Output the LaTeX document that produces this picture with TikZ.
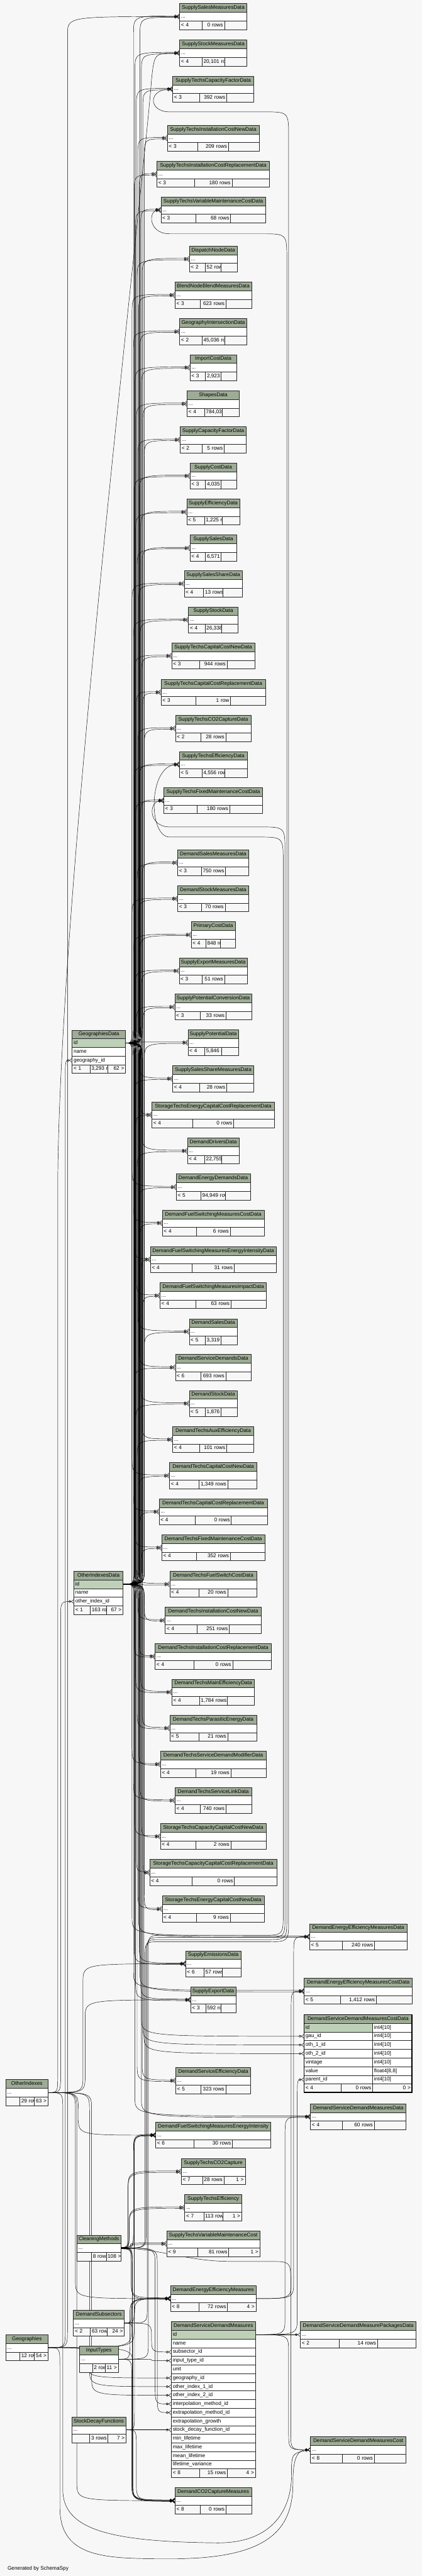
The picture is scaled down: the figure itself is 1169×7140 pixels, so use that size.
\documentclass[tikz,border=0pt]{standalone}
\usepackage{fontspec}
\setmainfont{Liberation Sans}
\usetikzlibrary{arrows.meta,calc}

\definecolor{bgc}{HTML}{F7F7F7}
\definecolor{hdrc}{HTML}{9EAC96}
\definecolor{pkc}{HTML}{BFD0B9}

\pgfdeclarelayer{back}
\pgfdeclarelayer{wires}
\pgfsetlayers{back,wires,main}

\newlength{\cwa}\newlength{\cwb}\newlength{\cwc}

\tikzset{
  cellbox/.style={draw=black!85, line width=1pt, outer sep=0pt, inner xsep=4pt, inner ysep=0pt,
    minimum height=24pt, anchor=north west, text height=11pt, text depth=3.5pt},
  hdrbox/.style={cellbox, fill=hdrc, align=center},
  rowbox/.style={cellbox, fill=white, align=left},
  pkbox/.style={cellbox, fill=pkc, align=left},
  footbox/.style={cellbox, fill=bgc},
  fk/.style={line width=0.8pt,
    -{Circle[open,length=7pt,width=7pt] Straight Barb[reversed,length=7pt,width=11pt]}}
}

\newcommand{\tablefoot}[6]{%
  \settowidth{\cwa}{#4}\settowidth{\cwb}{#5}\settowidth{\cwc}{#6}%
  \pgfmathsetmacro{\fex}{(#3-\cwa-\cwb-\cwc)/3}%
  \pgfmathsetmacro{\fwa}{max(\cwa+\fex-8,1)}%
  \pgfmathsetmacro{\fwb}{max(\cwb+\fex-8,1)}%
  \pgfmathsetmacro{\fwc}{max(#3-\fwa-\fwb-24,1)}%
  \node[footbox, text width=\fwa pt, align=left] (#1-fa) at (#2.south west) {\mbox{#4}};
  \node[footbox, text width=\fwb pt, align=right] (#1-fb) at (#1-fa.north east) {\mbox{#5}};
  \node[footbox, text width=\fwc pt, align=right] (#1-fc) at (#1-fb.north east) {\mbox{#6}};}

\newcommand{\tablec}[7]{%
  \pgfmathsetmacro{\hw}{#4-8}%
  \node[hdrbox, text width=\hw pt] (#1) at (#2,#3) {#1};
  \node[rowbox, text width=\hw pt] (#1-r) at (#1.south west) {...};
  \tablefoot{#1}{#1-r}{#4}{#5}{#6}{#7}}

\newcommand{\tablee}[6]{%
  \pgfmathsetmacro{\hw}{#4-8}%
  \node[hdrbox, text width=\hw pt] (#1) at (#2,#3) {#1};
  \node[pkbox, text width=\hw pt] (#1-1) at (#1.south west) {#5};
  \foreach \cl [count=\ri from 2] in {#6} {%
    \pgfmathtruncatemacro{\rj}{\ri-1}%
    \node[rowbox, text width=\hw pt] (#1-\ri) at (#1-\rj.south west) {\cl};}}

\newcommand{\fkbus}[3]{%
  \draw[fk] let \p1=(#2), \p2=(#3), \n1={ifthenelse(\y2>\y1,1,-1)},
      \n2={min(50,abs(\y2-\y1)/2)} in
    (\p1) .. controls (#1pt,\y1) .. (#1pt,\y1+\n1*\n2) -- (#1pt,\y2-\n1*\n2)
    .. controls (#1pt,\y2) .. (\p2);}

\newcommand{\fkloop}[6]{%
  \draw[fk] let \p1=(#5), \p2=(#6) in
    (\p1) .. controls (#1pt,\y1) .. (#1pt,\y1+40pt) -- (#1pt,-#4pt-45pt)
    .. controls (#1pt,-#4pt) .. (#1pt+45pt,-#4pt) -- (#2pt-60pt,-#4pt)
    .. controls (#2pt,-#4pt) .. (#2pt,-#4pt+60pt) -- (#2pt,-#3pt-70pt)
    .. controls (#2pt,-#3pt) .. (#2pt-70pt,-#3pt) -- (470pt,-#3pt)
    .. controls (410pt,-#3pt) and (410pt,\y2) .. (\p2);}

\begin{document}
\begin{tikzpicture}[x=1pt, y=-1pt, line join=round]
\fontsize{14.4}{17}\selectfont
\useasboundingbox (0,0) rectangle (1169,7140);
\begin{pgfonlayer}{back}
  \fill[bgc] (0,0) rectangle (1169,7140);
\end{pgfonlayer}

\foreach \nm/\cx/\yy/\ww/\lf/\rw/\rt in {
  SupplySalesMeasuresData/591/10/186/{< 4}/{0 rows}/{},
  SupplyStockMeasuresData/591/111/186/{< 4}/{20,101 rows}/{},
  SupplyTechsCapacityFactorData/591/211/225/{< 3}/{392 rows}/{},
  SupplyTechsInstallationCostNewData/591/347/254/{< 3}/{209 rows}/{},
  SupplyTechsInstallationCostReplacementData/591/447/312/{< 3}/{180 rows}/{},
  SupplyTechsVariableMaintenanceCostData/591/546/290/{< 3}/{68 rows}/{},
  DispatchNodeData/591/682/132/{< 2}/{52 rows}/{},
  BlendNodeBlendMeasuresData/591/782/212/{< 3}/{623 rows}/{},
  GeographyIntersectionData/591/883/186/{< 2}/{45,036 rows}/{},
  ImportCostData/591/983/129/{< 3}/{2,923 rows}/{},
  ShapesData/591/1083/145/{< 4}/{784,032 rows}/{},
  SupplyCapacityFactorData/591/1183/183/{< 2}/{5 rows}/{},
  SupplyCostData/591/1283/129/{< 3}/{4,035 rows}/{},
  SupplyEfficiencyData/591/1383/147/{< 5}/{1,225 rows}/{},
  SupplySalesData/591/1483/129/{< 4}/{6,571 rows}/{},
  SupplySalesShareData/591/1582/161/{< 4}/{13 rows}/{},
  SupplyStockData/591/1682/137/{< 4}/{26,338 rows}/{},
  SupplyTechsCapitalCostNewData/591/1782/230/{< 3}/{944 rows}/{},
  SupplyTechsCapitalCostReplacementData/591/1883/289/{< 3}/{1 row}/{},
  SupplyTechsCO2CaptureData/591/1983/209/{< 2}/{28 rows}/{},
  SupplyTechsEfficiencyData/591/2083/188/{< 5}/{4,556 rows}/{},
  SupplyTechsFixedMaintenanceCostData/591/2183/274/{< 3}/{180 rows}/{},
  DemandSalesMeasuresData/591/2355/197/{< 3}/{750 rows}/{},
  DemandStockMeasuresData/591/2455/197/{< 3}/{70 rows}/{},
  PrimaryCostData/591/2555/122/{< 4}/{848 rows}/{},
  SupplyExportMeasuresData/591/2655/189/{< 3}/{51 rows}/{},
  SupplyPotentialConversionData/591/2755/213/{< 3}/{33 rows}/{},
  SupplyPotentialData/591/2854/140/{< 4}/{5,846 rows}/{},
  SupplySalesShareMeasuresData/591/2954/225/{< 4}/{28 rows}/{},
  StorageTechsEnergyCapitalCostReplacementData/591/3054/340/{< 4}/{0 rows}/{},
  DemandDriversData/591/3154/143/{< 4}/{22,755 rows}/{},
  DemandEnergyDemandsData/591/3254/205/{< 5}/{94,949 rows}/{},
  DemandFuelSwitchingMeasuresCostData/591/3354/282/{< 4}/{6 rows}/{},
  DemandFuelSwitchingMeasuresEnergyIntensityData/591/3455/348/{< 4}/{31 rows}/{},
  DemandFuelSwitchingMeasuresImpactData/591/3555/295/{< 4}/{63 rows}/{},
  DemandSalesData/591/3655/133/{< 5}/{3,319 rows}/{},
  DemandServiceDemandsData/591/3754/210/{< 6}/{693 rows}/{},
  DemandStockData/591/3854/133/{< 5}/{1,876 rows}/{},
  DemandTechsAuxEfficiencyData/591/3954/225/{< 4}/{101 rows}/{},
  DemandTechsCapitalCostNewData/591/4054/242/{< 4}/{1,349 rows}/{},
  DemandTechsCapitalCostReplacementData/591/4154/300/{< 4}/{0 rows}/{},
  DemandTechsFixedMaintenanceCostData/591/4254/285/{< 4}/{352 rows}/{},
  DemandTechsFuelSwitchCostData/591/4355/241/{< 4}/{20 rows}/{},
  DemandTechsInstallationCostNewData/591/4455/266/{< 4}/{251 rows}/{},
  DemandTechsInstallationCostReplacementData/591/4555/322/{< 4}/{0 rows}/{},
  DemandTechsMainEfficiencyData/591/4654/229/{< 4}/{1,784 rows}/{},
  DemandTechsParasiticEnergyData/591/4754/241/{< 5}/{21 rows}/{},
  DemandTechsServiceDemandModifierData/591/4854/292/{< 4}/{19 rows}/{},
  DemandTechsServiceLinkData/591/4954/212/{< 4}/{740 rows}/{},
  StorageTechsCapacityCapitalCostNewData/591/5054/293/{< 4}/{2 rows}/{},
  StorageTechsCapacityCapitalCostReplacementData/591/5154/352/{< 4}/{0 rows}/{},
  StorageTechsEnergyCapitalCostNewData/591/5255/283/{< 4}/{9 rows}/{},
  SupplyEmissionsData/591/5407/153/{< 6}/{57 rows}/{},
  SupplyExportData/591/5507/125/{< 3}/{592 rows}/{},
  DemandServiceEfficiencyData/591/5731/208/{< 5}/{323 rows}/{},
  DemandFuelSwitchingMeasuresEnergyIntensity/591/5882/319/{< 6}/{30 rows}/{},
  SupplyTechsCO2Capture/591/5983/177/{< 7}/{28 rows}/{1 >},
  SupplyTechsEfficiency/591/6083/158/{< 7}/{113 rows}/{1 >},
  SupplyTechsVariableMaintenanceCost/591/6183/258/{< 9}/{81 rows}/{1 >},
  DemandEnergyEfficiencyMeasures/591/6335/237/{< 8}/{72 rows}/{4 >},
  DemandCO2CaptureMeasures/591/6895/212/{< 8}/{0 rows}/{},
  DemandEnergyEfficiencyMeasuresData/993/5332/270/{< 5}/{240 rows}/{},
  DemandEnergyEfficiencyMeasuresCostData/993/5483/300/{< 5}/{1,412 rows}/{},
  DemandServiceDemandMeasuresData/993/5831/265/{< 4}/{60 rows}/{},
  DemandServiceDemandMeasurePackagesData/993/6435/321/{< 2}/{14 rows}/{},
  DemandServiceDemandMeasuresCost/993/6754/265/{< 8}/{0 rows}/{},
  CleaningMethods/274/6195/122/{}/{8 rows}/{108 >},
  DemandSubsectors/274/6403/141/{< 2}/{63 rows}/{24 >},
  InputTypes/274/6503/107/{}/{2 rows}/{11 >},
  StockDecayFunctions/274/6699/151/{}/{3 rows}/{7 >},
  OtherIndexes/74.5/5764/117/{}/{29 rows}/{63 >},
  Geographies/74.5/6471/117/{}/{12 rows}/{54 >}}
{\pgfmathsetmacro{\xl}{\cx-\ww/2}\tablec{\nm}{\xl}{\yy}{\ww}{\lf}{\rw}{\rt}}

\tablee{GeographiesData}{200}{2855}{148}{id}{name, geography\_id}
\tablefoot{GeographiesData}{GeographiesData-3}{148}{< 1}{3,293 rows}{62 >}
\tablee{OtherIndexesData}{205}{4355}{136}{id}{name, other\_index\_id}
\tablefoot{OtherIndexesData}{OtherIndexesData-3}{136}{< 1}{163 rows}{67 >}
\tablee{DemandServiceDemandMeasures}{475}{6435}{233}{id}{name, subsector\_id, input\_type\_id, unit,
  geography\_id, other\_index\_1\_id, other\_index\_2\_id, interpolation\_method\_id,
  extrapolation\_method\_id, extrapolation\_growth, stock\_decay\_function\_id, min\_lifetime,
  max\_lifetime, mean\_lifetime, lifetime\_variance}
\tablefoot{DemandServiceDemandMeasures}{DemandServiceDemandMeasures-16}{233}{< 8}{15 rows}{4 >}

\node[hdrbox, text width=291pt] (DemandServiceDemandMeasuresCostData) at (843,5584) {DemandServiceDemandMeasuresCostData};
\node[pkbox, text width=182pt] (DemandServiceDemandMeasuresCostData-1) at (DemandServiceDemandMeasuresCostData.south west) {id};
\node[rowbox, text width=101pt] (DemandServiceDemandMeasuresCostData-t1) at (DemandServiceDemandMeasuresCostData-1.north east) {int4[10]};
\foreach \cl/\ty [count=\ri from 2] in {gau\_id/{int4[10]}, oth\_1\_id/{int4[10]}, oth\_2\_id/{int4[10]},
    vintage/{int4[10]}, value/{float4[8,8]}, parent\_id/{int4[10]}} {
  \pgfmathtruncatemacro{\rj}{\ri-1}
  \node[rowbox, text width=182pt] (DemandServiceDemandMeasuresCostData-\ri) at (DemandServiceDemandMeasuresCostData-\rj.south west) {\cl};
  \node[rowbox, text width=101pt] (DemandServiceDemandMeasuresCostData-t\ri) at (DemandServiceDemandMeasuresCostData-\ri.north east) {\ty};
}
\node[footbox, text width=94pt, align=left] (DemandServiceDemandMeasuresCostData-fa) at (DemandServiceDemandMeasuresCostData-7.south west) {< 4};
\node[footbox, text width=80pt, align=right] (DemandServiceDemandMeasuresCostData-fb) at (DemandServiceDemandMeasuresCostData-fa.north east) {0 rows};
\node[footbox, text width=101pt, align=right] (DemandServiceDemandMeasuresCostData-fc) at (DemandServiceDemandMeasuresCostData-fb.north east) {0 >};
\draw[line width=3pt] (DemandServiceDemandMeasuresCostData.north west) rectangle (DemandServiceDemandMeasuresCostData-fc.south east);

\node[anchor=west] (credit) at (16,7120) {Generated by SchemaSpy};

\begin{pgfonlayer}{wires}
\foreach \ch [count=\ci] in {SupplySalesMeasuresData, SupplyStockMeasuresData, SupplyTechsCapacityFactorData,
    SupplyTechsInstallationCostNewData, SupplyTechsInstallationCostReplacementData,
    SupplyTechsVariableMaintenanceCostData, DispatchNodeData, BlendNodeBlendMeasuresData,
    GeographyIntersectionData, ImportCostData, ShapesData, SupplyCapacityFactorData, SupplyCostData,
    SupplyEfficiencyData, SupplySalesData, SupplySalesShareData, SupplyStockData,
    SupplyTechsCapitalCostNewData, SupplyTechsCapitalCostReplacementData, SupplyTechsCO2CaptureData,
    SupplyTechsEfficiencyData, SupplyTechsFixedMaintenanceCostData, DemandSalesMeasuresData,
    DemandStockMeasuresData, PrimaryCostData, SupplyExportMeasuresData, SupplyPotentialConversionData,
    SupplyPotentialData, SupplySalesShareMeasuresData, StorageTechsEnergyCapitalCostReplacementData,
    DemandDriversData, DemandEnergyDemandsData, DemandFuelSwitchingMeasuresCostData,
    DemandFuelSwitchingMeasuresEnergyIntensityData, DemandFuelSwitchingMeasuresImpactData,
    DemandSalesData, DemandServiceDemandsData, DemandStockData, DemandTechsAuxEfficiencyData,
    DemandTechsCapitalCostNewData, DemandTechsCapitalCostReplacementData,
    DemandTechsFixedMaintenanceCostData, DemandTechsFuelSwitchCostData,
    DemandTechsInstallationCostNewData, DemandTechsInstallationCostReplacementData,
    DemandTechsMainEfficiencyData, DemandTechsParasiticEnergyData,
    DemandTechsServiceDemandModifierData, DemandTechsServiceLinkData,
    StorageTechsCapacityCapitalCostNewData, StorageTechsCapacityCapitalCostReplacementData,
    StorageTechsEnergyCapitalCostNewData, SupplyEmissionsData, SupplyExportData,
    DemandServiceEfficiencyData, DemandEnergyEfficiencyMeasuresData,
    DemandEnergyEfficiencyMeasuresCostData, DemandServiceDemandMeasuresData} {
  \pgfmathsetmacro{\bx}{366+mod(\ci,8)*4}
  \fkbus{\bx}{GeographiesData-1.east}{[yshift=2pt]\ch-r.west}
  \pgfmathsetmacro{\bx}{372+mod(\ci+3,8)*4}
  \fkbus{\bx}{OtherIndexesData-1.east}{[yshift=-2pt]\ch-r.west}
}
\fkbus{392}{GeographiesData-1.east}{DemandServiceDemandMeasuresCostData-2.west}
\fkbus{396}{OtherIndexesData-1.east}{DemandServiceDemandMeasuresCostData-3.west}
\fkbus{399}{OtherIndexesData-1.east}{DemandServiceDemandMeasuresCostData-4.west}

\fkbus{181}{Geographies-r.east}{GeographiesData-3.west}
\fkbus{187}{Geographies-r.east}{SupplySalesMeasuresData-r.west}
\fkbus{168}{OtherIndexes-r.east}{OtherIndexesData-3.west}
\draw[fk] (OtherIndexes-r.east) .. controls (160,5800) .. (160,5750) -- (160,3300)
  .. controls (160,2500) and (400,500) .. (420,220) .. controls (428,147) .. (SupplyStockMeasuresData-r.west);

\foreach \dst [count=\ci] in {SupplyTechsCO2Capture, SupplyTechsEfficiency, SupplyTechsVariableMaintenanceCost,
    DemandEnergyEfficiencyMeasures, DemandCO2CaptureMeasures, DemandFuelSwitchingMeasuresEnergyIntensity} {
  \pgfmathsetmacro{\bx}{352+\ci*3}
  \fkbus{\bx}{[yshift=2pt]CleaningMethods-r.east}{[yshift=2pt]\dst-r.west}
  \fkbus{\bx}{[yshift=-2pt]CleaningMethods-r.east}{[yshift=-2pt]\dst-r.west}
}
\foreach \dst [count=\ci] in {DemandEnergyEfficiencyMeasures, DemandCO2CaptureMeasures,
    DemandFuelSwitchingMeasuresEnergyIntensity} {
  \pgfmathsetmacro{\bx}{360+\ci*4}
  \fkbus{\bx}{DemandSubsectors-r.east}{\dst-r.west}
  \fkbus{\bx}{Geographies-r.east}{\dst-r.west}
  \pgfmathsetmacro{\bx}{205+\ci*4}
  \fkbus{\bx}{OtherIndexes-r.east}{\dst-r.west}
}
\foreach \dst [count=\ci] in {DemandEnergyEfficiencyMeasures, DemandCO2CaptureMeasures} {
  \pgfmathsetmacro{\bx}{355+\ci*5}
  \fkbus{\bx}{InputTypes-r.east}{\dst-r.west}
  \pgfmathsetmacro{\bx}{368+\ci*5}
  \fkbus{\bx}{StockDecayFunctions-r.east}{\dst-r.west}
}
\fkbus{230}{OtherIndexes-r.east}{SupplyEmissionsData-r.west}
\fkbus{236}{OtherIndexes-r.east}{SupplyExportData-r.west}

\fkbus{420}{DemandSubsectors-r.east}{DemandServiceDemandMeasures-3.west}
\fkbus{420}{InputTypes-r.east}{DemandServiceDemandMeasures-4.west}
\fkbus{242}{Geographies-r.east}{DemandServiceDemandMeasures-6.west}
\fkbus{248}{OtherIndexes-r.east}{DemandServiceDemandMeasures-7.west}
\fkbus{254}{OtherIndexes-r.east}{DemandServiceDemandMeasures-8.west}
\fkbus{430}{CleaningMethods-r.east}{DemandServiceDemandMeasures-9.west}
\fkbus{436}{CleaningMethods-r.east}{DemandServiceDemandMeasures-10.west}
\fkbus{420}{StockDecayFunctions-r.east}{DemandServiceDemandMeasures-12.west}

\draw[fk] (DemandServiceDemandMeasures-1.east) -- (DemandServiceDemandMeasurePackagesData-r.west);
\fkbus{790}{DemandServiceDemandMeasures-1.east}{DemandServiceDemandMeasuresData-r.west}
\fkbus{824}{DemandServiceDemandMeasures-1.east}{DemandServiceDemandMeasuresCostData-7.west}
\fkbus{800}{DemandServiceDemandMeasures-1.east}{DemandServiceDemandMeasuresCost-r.west}
\fkbus{814}{DemandEnergyEfficiencyMeasures-r.east}{DemandEnergyEfficiencyMeasuresData-r.west}
\fkbus{807}{DemandEnergyEfficiencyMeasures-r.east}{DemandEnergyEfficiencyMeasuresCostData-r.west}

\draw[fk] (CleaningMethods-r.east) .. controls (440,6232) and (520,6268) .. (640,6268)
  -- (745,6268) .. controls (806,6268) .. (806,6330) -- (806,6740)
  .. controls (806,6790) .. (DemandServiceDemandMeasuresCost-r.west);
\draw[fk] (Geographies-r.east) .. controls (166,6507) .. (166,6560) -- (166,6950)
  .. controls (166,7095) and (300,7092) .. (480,7092) .. controls (760,7092) and (812,7000) .. (812,6880)
  .. controls (812,6800) and (830,6790) .. (DemandServiceDemandMeasuresCost-r.west);
\draw[fk] (OtherIndexes-r.east) .. controls (174,5800) .. (174,5850) -- (174,6900)
  .. controls (174,7010) and (300,7045) .. (600,7048) .. controls (760,7050) and (808,6950) .. (808,6860)
  .. controls (808,6800) .. (DemandServiceDemandMeasuresCost-r.west);

\fkloop{402}{800}{310}{5382}{CleaningMethods-r.east}{SupplyTechsCapacityFactorData-r.west}
\fkloop{405}{795}{648}{5376}{CleaningMethods-r.east}{SupplyTechsVariableMaintenanceCostData-r.west}
\fkloop{408}{790}{2292}{5370}{DemandSubsectors-r.east}{SupplyTechsFixedMaintenanceCostData-r.west}
\fkloop{411}{785}{2320}{5364}{InputTypes-r.east}{SupplyTechsEfficiencyData-r.west}
\end{pgfonlayer}
\end{tikzpicture}
\end{document}
